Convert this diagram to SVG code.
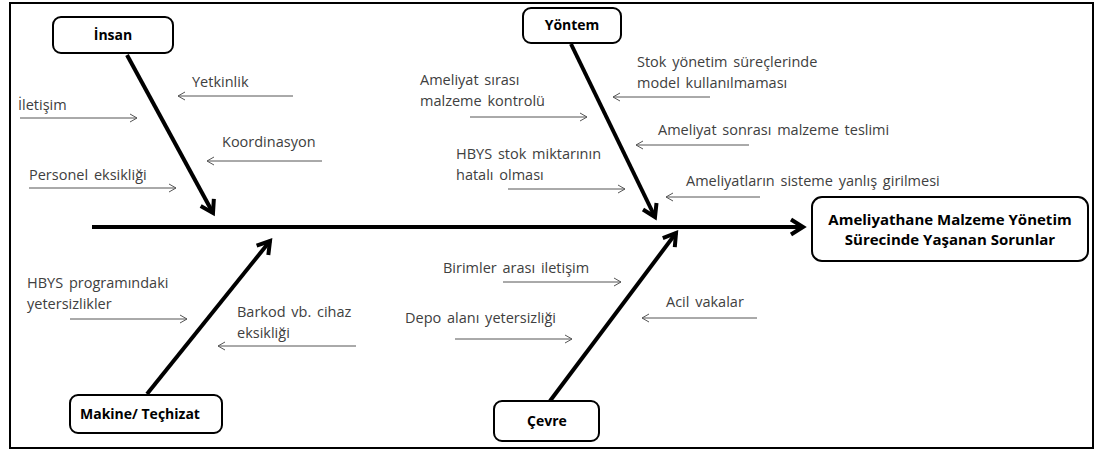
<svg xmlns="http://www.w3.org/2000/svg" width="1094" height="450" viewBox="0 0 1094 450">
<style>
.box{fill:#fff;stroke:#000;stroke-width:2}
.lbl{font-family:"Open Sans","Liberation Sans",sans-serif;font-size:14px;font-weight:bold;fill:#000}
.res{font-family:"Open Sans","Liberation Sans",sans-serif;font-size:15px;font-weight:bold;fill:#000}
.t{font-family:"Open Sans","Liberation Sans",sans-serif;font-size:14.5px;fill:#404040;word-spacing:2px}
.bone{stroke:#000;stroke-width:4;fill:none;marker-end:url(#big)}
.sub{stroke:#555;stroke-width:1;fill:none;marker-end:url(#small)}
</style>
<defs>
<marker id="big" markerUnits="userSpaceOnUse" viewBox="-16 -10 20 20" markerWidth="20" markerHeight="20" refX="0" refY="0" orient="auto">
<path d="M-12,-7.5 L0,0 L-12,7.5" fill="none" stroke="#000" stroke-width="4"/>
</marker>
<marker id="small" markerUnits="userSpaceOnUse" viewBox="-10 -6 12 12" markerWidth="12" markerHeight="12" refX="0" refY="0" orient="auto">
<path d="M-7,-4 L0,0 L-7,4" fill="none" stroke="#555" stroke-width="1"/>
</marker>
</defs>
<rect x="10" y="3" width="1083" height="445" fill="#fff" stroke="#000" stroke-width="2"/>
<g id="connectors">
<line class="bone" x1="92" y1="227" x2="803" y2="227"/>
<line class="bone" x1="127" y1="55" x2="213" y2="213"/>
<line class="bone" x1="571" y1="44" x2="655" y2="217"/>
<line class="bone" x1="147" y1="394" x2="270" y2="241"/>
<line class="bone" x1="550" y1="401" x2="676" y2="233"/>
<line class="sub" x1="293" y1="96" x2="178" y2="96"/>
<line class="sub" x1="20" y1="118" x2="137" y2="118"/>
<line class="sub" x1="322" y1="161" x2="207" y2="161"/>
<line class="sub" x1="29" y1="188" x2="176" y2="188"/>
<line class="sub" x1="710" y1="97" x2="613" y2="97"/>
<line class="sub" x1="470" y1="117" x2="587" y2="117"/>
<line class="sub" x1="749" y1="145" x2="636" y2="145"/>
<line class="sub" x1="508" y1="189" x2="625" y2="189"/>
<line class="sub" x1="760" y1="197" x2="666" y2="197"/>
<line class="sub" x1="70" y1="319" x2="187" y2="319"/>
<line class="sub" x1="356" y1="346" x2="218" y2="346"/>
<line class="sub" x1="503" y1="282" x2="621" y2="282"/>
<line class="sub" x1="455" y1="339" x2="572" y2="339"/>
<line class="sub" x1="757" y1="318" x2="642" y2="318"/>
</g>
<g id="insan"><rect class="box" x="53" y="17" width="120" height="36" rx="8"/><text class="lbl" x="113" y="40" text-anchor="middle">İnsan</text></g>
<g id="yontem"><rect class="box" x="523" y="8" width="98" height="35" rx="8"/><text class="lbl" x="572" y="30" text-anchor="middle">Yöntem</text></g>
<g id="makine"><rect class="box" x="70" y="395" width="152" height="38" rx="8"/><text class="lbl" x="80" y="419">Makine/ Teçhizat</text></g>
<g id="cevre"><rect class="box" x="494" y="401" width="105" height="40" rx="8"/><text class="lbl" x="547" y="426" text-anchor="middle">Çevre</text></g>
<g id="sonuc"><rect class="box" x="812" y="197" width="276" height="64" rx="10"/><text class="res" x="950" y="225" text-anchor="middle">Ameliyathane Malzeme Yönetim</text><text class="res" x="950" y="245" text-anchor="middle">Sürecinde Yaşanan Sorunlar</text></g>
<g id="causes">
<text class="t" x="192" y="87">Yetkinlik</text>
<text class="t" x="18" y="110">İletişim</text>
<text class="t" x="222" y="147">Koordinasyon</text>
<text class="t" x="29" y="180">Personel eksikliği</text>
<text class="t" x="637" y="67">Stok yönetim süreçlerinde</text>
<text class="t" x="637" y="88">model kullanılmaması</text>
<text class="t" x="420" y="85">Ameliyat sırası</text>
<text class="t" x="420" y="106">malzeme kontrolü</text>
<text class="t" x="658" y="135">Ameliyat sonrası malzeme teslimi</text>
<text class="t" x="456" y="159">HBYS stok miktarının</text>
<text class="t" x="456" y="180">hatalı olması</text>
<text class="t" x="686" y="186">Ameliyatların sisteme yanlış girilmesi</text>
<text class="t" x="27" y="288">HBYS programındaki</text>
<text class="t" x="27" y="309">yetersizlikler</text>
<text class="t" x="237" y="317">Barkod vb. cihaz</text>
<text class="t" x="237" y="338">eksikliği</text>
<text class="t" x="443" y="273">Birimler arası iletişim</text>
<text class="t" x="405" y="323">Depo alanı yetersizliği</text>
<text class="t" x="666" y="307">Acil vakalar</text>
</g>
</svg>
